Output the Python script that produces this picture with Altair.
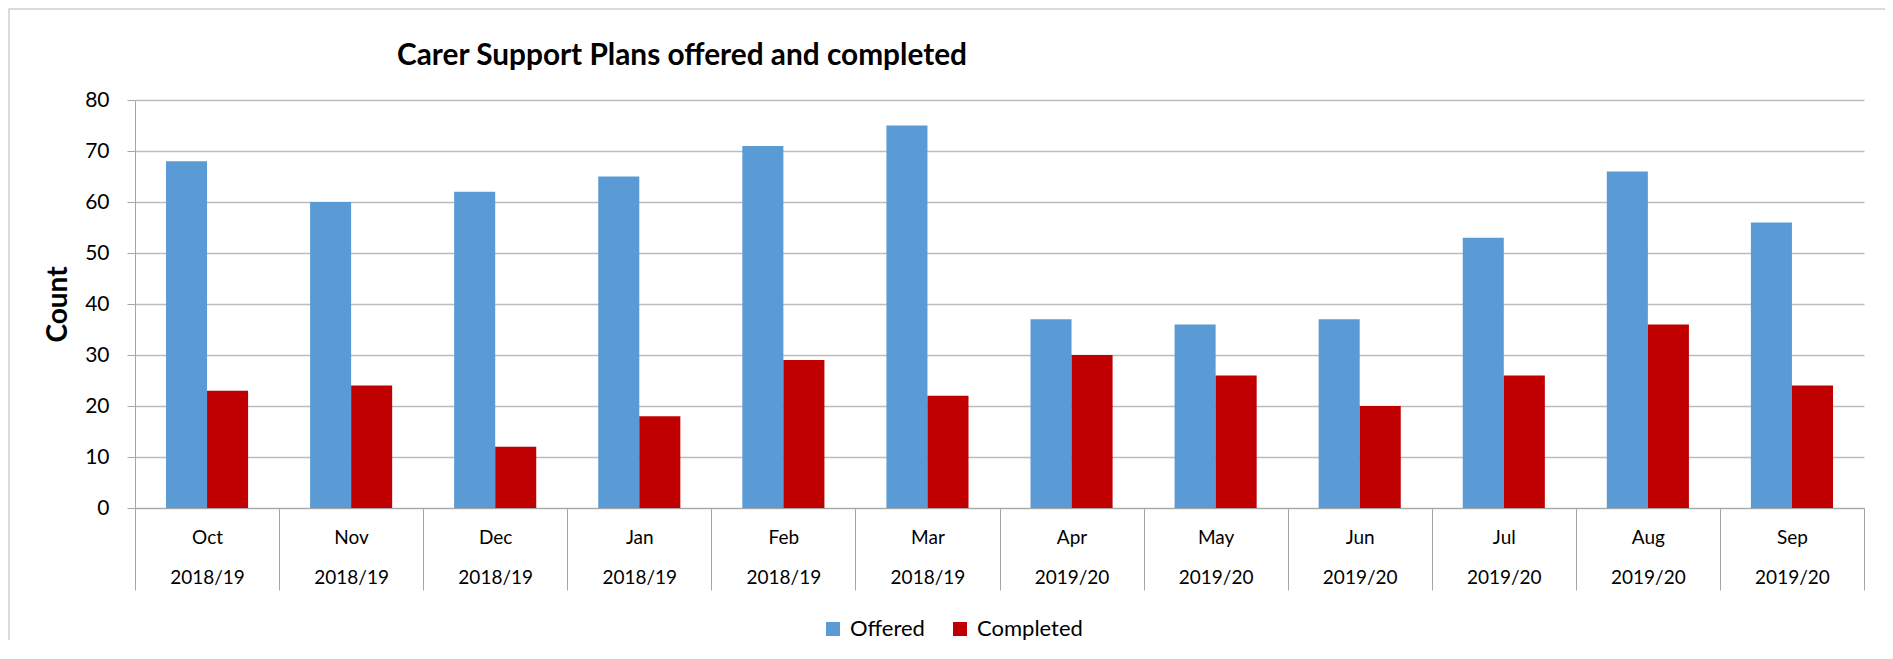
import altair as alt
import pandas as pd

months = ["Oct", "Nov", "Dec", "Jan", "Feb", "Mar", "Apr", "May", "Jun", "Jul", "Aug", "Sep"]
years = ["2018/19"] * 6 + ["2019/20"] * 6
offered = [68, 60, 62, 65, 71, 75, 37, 36, 37, 53, 66, 56]
completed = [23, 24, 12, 18, 29, 22, 30, 26, 20, 26, 36, 24]
series = ["Offered", "Completed"]
colors = ["#5B9BD5", "#C00000"]

cats = [f"{m} {y}" for m, y in zip(months, years)]
rows = []
for c, o, d in zip(cats, offered, completed):
    rows.append({"cat": c, "series": "Offered", "count": o})
    rows.append({"cat": c, "series": "Completed", "count": d})
df = pd.DataFrame(rows)

FONT = "Lato"
AXIS_GRAY = "#A6A6A6"

bars = alt.Chart(df).mark_bar().encode(
    x=alt.X(
        "cat:N",
        sort=cats,
        scale=alt.Scale(paddingInner=0, paddingOuter=0),
        axis=alt.Axis(
            title=None,
            labelAngle=0,
            tickBand="extent",
            tickSize=82,
            tickColor=AXIS_GRAY,
            domainColor=AXIS_GRAY,
            labelExpr="split(datum.label, ' ')",
            labelLineHeight=40,
            labelBaseline="middle",
            labelPadding=-53,
            labelFont=FONT,
            labelFontSize=19,
            labelColor="#000000",
        ),
    ),
    xOffset=alt.XOffset(
        "series:N",
        sort=series,
        scale=alt.Scale(domain=series, paddingInner=0, paddingOuter=0.755),
    ),
    y=alt.Y(
        "count:Q",
        scale=alt.Scale(domain=[0, 80], nice=False),
        axis=alt.Axis(
            title="Count",
            values=[0, 10, 20, 30, 40, 50, 60, 70, 80],
            grid=True,
            gridColor="#BCBCBC",
            gridWidth=1.5,
            tickSize=8,
            tickColor=AXIS_GRAY,
            domainColor=AXIS_GRAY,
            labelPadding=18,
            labelFont=FONT,
            labelFontSize=21,
            labelColor="#000000",
            titleFont=FONT,
            titleFontSize=28,
            titleFontWeight="bold",
            titleColor="#000000",
            titleAngle=270,
            titleX=-77,
            titleY=204,
            titleBaseline="middle",
            titleAlign="center",
        ),
    ),
    color=alt.Color(
        "series:N",
        sort=series,
        scale=alt.Scale(domain=series, range=colors),
        legend=alt.Legend(
            title=None,
            orient="none",
            legendX=687,
            legendY=518,
            direction="horizontal",
            symbolType="square",
            symbolSize=196,
            symbolStrokeWidth=0,
            labelFont=FONT,
            labelFontSize=22,
            labelColor="#000000",
            labelOffset=6,
            columnPadding=24,
        ),
    ),
)

border = alt.Chart(alt.Data(values=[{}])).mark_rect(
    filled=False, stroke="#D0D0D0", strokeWidth=1.5
).encode(
    x=alt.value(-126), x2=alt.value(1756), y=alt.value(-91), y2=alt.value(700)
)

chart = alt.layer(border, bars).properties(
    width=1729,
    height=408,
    autosize=alt.AutoSizeParams(type="none"),
    padding={"left": 127, "top": 92, "right": 21, "bottom": 132},
    background="#FFFFFF",
    title=alt.TitleParams(
        "Carer Support Plans offered and completed",
        anchor="start",
        frame="group",
        dx=262,
        dy=121,
        offset=34,
        baseline="alphabetic",
        font=FONT,
        fontSize=29.8,
        fontWeight="bold",
        color="#000000",
    ),
).configure_view(stroke=None)

chart.save("out.html", embed_options={"renderer": "svg", "actions": False})
